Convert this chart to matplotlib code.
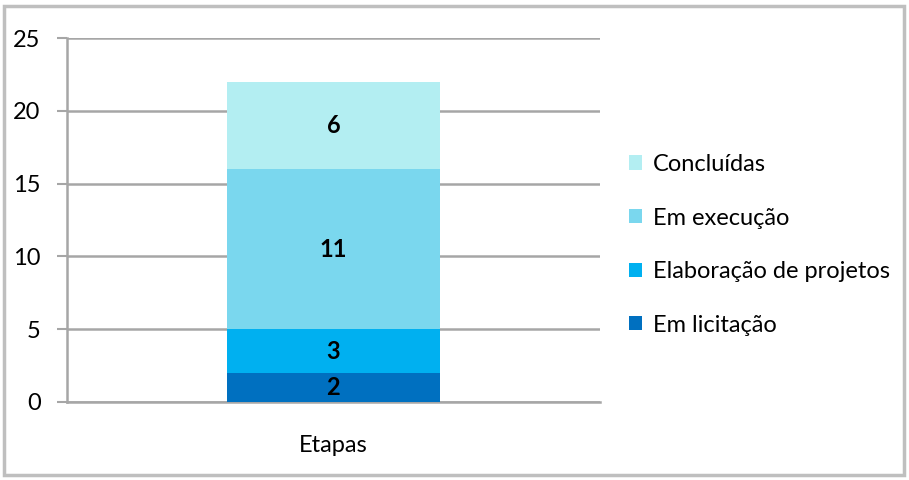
import matplotlib
matplotlib.use("Agg")
import matplotlib.pyplot as plt
from matplotlib.patches import Rectangle, Patch

plt.rcParams['font.family'] = ['Lato', 'DejaVu Sans']

category = ["Etapas"]
series_names = ["Em licitação", "Elaboração de projetos", "Em execução", "Concluídas"]
series_values = [2, 3, 11, 6]
colors = ["#0070C0", "#00B0F0", "#7AD7EE", "#B3EEF2"]
yticks = [0, 5, 10, 15, 20, 25]

fig = plt.figure(figsize=(9.09, 4.8), dpi=100)
ax = fig.add_axes([0.0737, 0.1625, 0.5863, 0.7583])

bottom = 0
handles = []
for name, val, col in zip(series_names, series_values, colors):
    ax.bar(0, val, bottom=bottom, width=0.4, color=col, zorder=3)
    ax.text(0, bottom + val / 2, str(val), ha='center', va='center',
            fontsize=17, fontweight='bold', color='black', zorder=4)
    bottom += val
    handles.append(Patch(facecolor=col, edgecolor='none', label=name))

ax.set_xlim(-0.5, 0.5)
ax.set_ylim(0, 25)
ax.set_yticks(yticks)
ax.set_xticks([0])
ax.set_xticklabels(category)
ax.tick_params(axis='y', length=7, width=1.5, color='#A6A6A6', labelsize=17, pad=12)
ax.tick_params(axis='x', length=0, labelsize=17, pad=24)
ax.grid(axis='y', color='#A6A6A6', linewidth=1.8, zorder=0)
for s in ['top', 'right']:
    ax.spines[s].set_visible(False)
for s in ['left', 'bottom']:
    ax.spines[s].set_color('#A6A6A6')
    ax.spines[s].set_linewidth(1.8)

leg = fig.legend(handles=handles[::-1], loc='center left', bbox_to_anchor=(0.669, 0.49),
                 frameon=False, fontsize=17, handlelength=0.55, handleheight=0.55,
                 handletextpad=0.45, labelspacing=1.38)

fig.patches.append(Rectangle((0.004, 0.01), 0.991, 0.978, transform=fig.transFigure,
                             fill=False, edgecolor='#BFBFBF', linewidth=2.5))

fig.savefig("out.png", dpi=100)
